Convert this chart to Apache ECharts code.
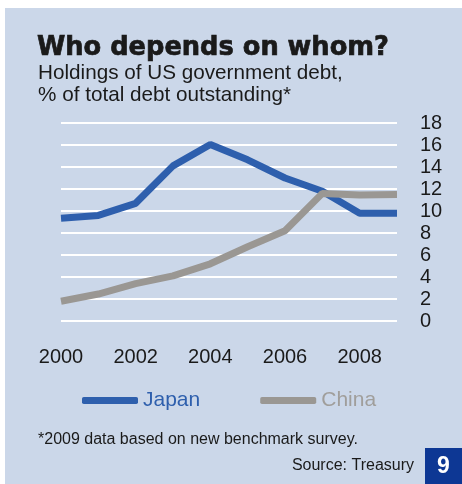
<!DOCTYPE html>
<html>
<head>
<meta charset="utf-8">
<script src="https://cdn.jsdelivr.net/npm/echarts@6/dist/echarts.min.js"></script>
<style>
  html, body { margin: 0; padding: 0; background: #fff; }
  #main { width: 462px; height: 484px; }
</style>
</head>
<body>
<div id="main"></div>
<script>
    var years = ['2000', '2001', '2002', '2003', '2004', '2005', '2006', '2007', '2008', '2009'];
    var japan = [9.35, 9.6, 10.7, 14.1, 16.05, 14.65, 13.0, 11.8, 9.8, 9.8];
    var china = [1.8, 2.45, 3.4, 4.1, 5.2, 6.75, 8.2, 11.6, 11.45, 11.5];
    var yTicks = [0, 18, 2]; // min, max, step

    var bg = '#cbd7e9';
    var blue = '#2e5fad';
    var grey = '#9a9793';
    var font = 'Liberation Sans, Arial, sans-serif';

    var chart = echarts.init(document.getElementById('main'));

    var option = {
        animation: false,
        textStyle: { fontFamily: font },
        graphic: [
            { type: 'rect', z: -10, shape: { x: 5, y: 8, width: 457, height: 476 }, style: { fill: bg } },
            { type: 'rect', z: 10, shape: { x: 425, y: 448, width: 37, height: 36 }, style: { fill: '#0d3794' } },
            {
                type: 'text', z: 11,
                style: { x: 443.5, y: 467, text: '9', fill: '#fff', align: 'center', verticalAlign: 'middle', font: 'bold 23px ' + font }
            }
        ],
        title: [
            {
                text: 'Who depends on whom?',
                left: 37, top: 35, padding: 0,
                textStyle: {
                    fontFamily: 'DejaVu Sans', fontWeight: 'bold', fontSize: 25.7, color: '#1a1a1a',
                    textBorderColor: '#1a1a1a', textBorderWidth: 0.7
                }
            },
            {
                text: 'Holdings of US government debt,\n% of total debt outstanding*',
                left: 38, top: 62, padding: 0,
                textStyle: { fontWeight: 'normal', fontSize: 20.7, lineHeight: 22, color: '#1a1a1a' }
            },
            {
                text: '*2009 data based on new benchmark survey.',
                left: 38, top: 432, padding: 0,
                textStyle: { fontWeight: 'normal', fontSize: 16, color: '#1a1a1a' }
            },
            {
                text: 'Source: Treasury',
                right: 48, top: 458, padding: 0,
                textStyle: { fontWeight: 'normal', fontSize: 16, color: '#1a1a1a' }
            }
        ],
        legend: {
            left: 82, top: 390, padding: 0,
            itemWidth: 56, itemHeight: 7, itemGap: 60,
            icon: 'roundRect',
            textStyle: { fontSize: 21 },
            data: [
                { name: 'Japan', textStyle: { color: blue } },
                { name: 'China', textStyle: { color: '#a09e9b' } }
            ]
        },
        grid: { left: 61, right: 65, top: 123, bottom: 163, containLabel: false },
        xAxis: {
            type: 'category',
            data: years,
            boundaryGap: false,
            axisLine: { show: false },
            axisTick: { show: false },
            axisLabel: { interval: 1, margin: 26, fontSize: 20, color: '#1a1a1a' },
            splitLine: { show: false }
        },
        yAxis: {
            type: 'value',
            position: 'right',
            min: yTicks[0], max: yTicks[1], interval: yTicks[2],
            axisLine: { show: false },
            axisTick: { show: false },
            axisLabel: { margin: 23, fontSize: 20, color: '#1a1a1a', align: 'left' },
            splitLine: { lineStyle: { color: '#ffffff', width: 2 } }
        },
        series: [
            {
                name: 'Japan', type: 'line', data: japan,
                symbol: 'none', z: 3,
                lineStyle: { color: blue, width: 7 },
                itemStyle: { color: blue }
            },
            {
                name: 'China', type: 'line', data: china,
                symbol: 'none', z: 4,
                lineStyle: { color: grey, width: 7 },
                itemStyle: { color: grey }
            }
        ]
    };

    chart.setOption(option);
</script>
</body>
</html>
